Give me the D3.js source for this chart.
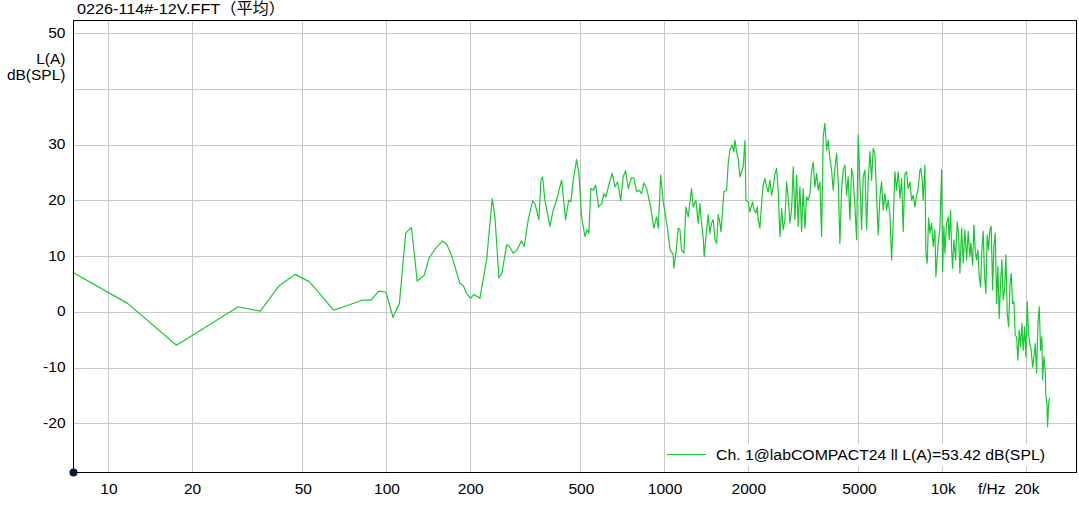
<!DOCTYPE html>
<html><head><meta charset="utf-8">
<script src="https://cdn.jsdelivr.net/npm/d3@7"></script>
<style>
body{margin:0;background:#fff}
svg{display:block}
text{font-family:"Liberation Sans",Arial,"Noto Sans CJK SC",sans-serif;font-size:15.5px;fill:#000}
</style>
</head><body>
<svg id="chart" width="1079" height="506"></svg>
<script>
const titleText = "0226-114#-12V.FFT（平均）";
const xTicks = [10,20,50,100,200,500,1000,2000,5000,10000,20000];
const xTickLabels = ["10","20","50","100","200","500","1000","2000","5000","10k","20k"];
const xUnit = "f/Hz";
const yGrid = [50,40,30,20,10,0,-10,-20];
const yTickValues = [50,30,20,10,0,-10,-20];
const yUnit = ["L(A)","dB(SPL)"];
const legendLabel = "Ch. 1@labCOMPACT24 ll L(A)=53.42 dB(SPL)";

// band A : up to 130 Hz
const freqA = [7.49,11.72,17.58,29.30,35.16,41.02,46.88,52.73,58.59,64.45,70.31,82.03,87.89,93.75,99.61,105.5,111.3,117.2,123.0,128.9];
const levelA = [7.1,1.6,-5.9,1.0,0.2,4.7,6.8,5.5,2.9,0.4,1.0,2.2,2.2,3.8,3.6,-0.9,1.6,14.2,15.2,5.6];
// band B : 130 Hz - 500 Hz
const freqB = [136.6,142.1,149.3,159.1,164.5,170.4,176.2,183.6,188.7,194.1,200.6,206.2,216.7,229.1,240.0,245.4,253.7,260.0,270.3,276.2,285.5,293.6,306.0,312.7,323.3,335.3,341.8,353.2,359.2,364.2,371.2,386.9,397.6,408.9,426.2,440.6,451.7,460.3,469.2,482.6,491.9];
const levelB = [6.6,9.7,11.3,12.8,12.2,10.6,8.2,5.2,4.8,3.4,2.5,3.2,2.5,9.4,20.4,17.1,6.2,7.0,12.1,11.9,10.6,11.1,12.8,11.8,16.6,20.0,19.5,16.6,23.7,24.3,20.1,15.4,18.3,20.1,23.7,16.6,20.1,19.8,23.7,27.4,24.9];
// band C : 500 Hz - 1 kHz
const freqC = [503,517,527,534,543,554,565,579,594,605,615,632,648,663,678,695,710,724,740,761,776,793,810,827,842,862,891,915,936,949,968,989];
const levelC = [17.1,13.6,14.8,14.2,22.2,21.9,22.8,18.9,19.5,21.3,20.7,23.1,24.9,22.5,23.4,20.0,24.3,25.4,22.2,24.2,24.0,21.6,21.9,21.3,23.2,22.2,18.9,15.1,17.1,15.1,24.6,19.8];
// band D : 1 kHz - 2 kHz
const freqD = [1022,1045,1074,1080,1098,1119,1135,1151,1173,1193,1216,1250,1267,1296,1321,1339,1351,1377,1388,1416,1435,1455,1476,1496,1517,1538,1559,1581,1594,1617,1634,1671,1693,1717,1750,1775,1790,1815,1839,1866,1892,1917,1945,1961,1998];
const levelD = [15.4,11.3,10.3,7.9,10.6,15.1,14.8,11.2,10.6,18.9,17.1,22.2,18.9,20.1,16.0,19.5,17.1,13.3,10.0,14.8,17.5,14.2,16.0,16.6,13.0,12.4,17.5,16.0,14.5,18.3,21.6,21.9,26.7,29.1,30.0,28.8,30.9,28.8,27.6,24.3,25.2,26.1,30.8,20.1,19.8];
// band E : 2 kHz - 4 kHz
const freqE = [2026,2072,2100,2130,2153,2171,2201,2233,2262,2294,2327,2358,2392,2426,2458,2493,2528,2561,2598,2635,2670,2708,2746,2782,2822,2862,2901,2942,2983,3023,3066,3109,3150,3195,3240,3284,3330,3377,3423,3471,3521,3567,3618,3670,3718,3771,3824,3875,3930,3986];
const levelE = [18.0,19.8,18.3,17.8,18.9,16.6,15.1,19.5,22.8,24.0,22.5,21.6,23.7,21.0,22.5,24.9,25.8,21.9,13.6,18.6,14.8,16.6,23.4,20.7,16.0,18.3,26.1,16.6,24.6,15.4,22.5,14.5,22.2,15.1,20.7,20.1,21.3,25.2,27.0,22.5,24.9,21.9,23.4,13.6,31.5,33.9,29.1,30.9,27.6,25.5];
// band F : 4 kHz - 10 kHz
const freqF = [4039,4096,4154,4210,4269,4330,4388,4450,4513,4573,4638,4703,4766,4835,4903,4968,5038,5110,5178,5251,5326,5396,5473,5550,5624,5704,5786,5863,5946,6030,6111,6197,6284,6368,6459,6550,6638,6732,6827,6918,7016,7116,7211,7313,7416,7516,7623,7731,7833,7944,8057,8164,8280,8348,8439,8509,8630,8701,8795,8898,8995,9122,9243,9374,9452,9634,9772,9911,9993];
const levelF = [21.9,25.8,28.5,23.7,12.4,21.9,25.5,26.4,21.0,24.3,16.6,25.8,24.3,18.9,13.0,31.8,23.7,14.8,24.3,25.5,14.8,23.4,28.8,23.7,29.4,28.5,20.7,13.9,20.7,23.4,18.3,21.3,18.3,20.1,17.5,9.4,16.0,25.2,21.9,25.2,20.4,24.0,14.5,24.9,25.2,22.2,23.4,20.1,21.0,18.9,21.0,22.2,25.5,25.8,23.7,20.1,26.4,10.6,8.8,16.9,14.2,16.0,11.8,14.8,6.4,12.4,15.1,25.5,7.3];
// band G : above 10 kHz
const freqG = [10100,10184,10328,10466,10553,10676,10765,10854,10972,11127,11276,11407,11531,11694,11851,12019,12189,12351,12527,12630,12809,12948,13088,13240,13383,13529,13686,13834,13984,14147,14301,14455,14624,14782,14942,15117,15282,15447,15627,15797,15965,16152,16326,16502,16695,16876,17058,17258,17445,17634,17840,18033,18228,18439,18638,18840,19060,19268,19475,19704,19916,20131,20366,20586,20809,21051,21278,21509,21761,21996,22234,22493,22737,22868,23117,23367,23505,23700,23838,24035,24235];
const levelG = [15.4,10.6,16.0,17.1,13.0,18.3,11.2,7.9,13.0,9.4,16.2,14.2,7.0,15.1,8.8,14.8,9.4,14.5,10.0,12.4,8.5,15.7,11.2,9.4,11.2,6.4,4.6,11.2,14.5,6.4,3.4,13.9,11.2,14.8,15.4,4.0,11.8,14.2,1.6,8.2,-1.1,5.2,9.4,2.2,4.0,10.3,-0.2,-2.6,4.6,7.0,1.6,1.9,-4.1,-4.4,-8.6,-3.2,-6.2,-2.0,-6.8,-2.6,-8.0,1.9,-3.8,-5.6,-6.8,-9.8,-8.0,-5.6,-10.9,-2.0,1.0,-6.8,-4.4,-12.1,-8.0,-10.3,-15.1,-16.3,-20.5,-16.3,-15.4];

const bands = [[freqA,levelA],[freqB,levelB],[freqC,levelC],[freqD,levelD],[freqE,levelE],[freqF,levelF],[freqG,levelG]];
const series = [];
bands.forEach(([f,l]) => { const n = Math.min(f.length,l.length); for (let i=0;i<n;i++) series.push({f:f[i], v:l[i]}); });

const L = 73.5, R = 1076.5, T = 20.5, B = 472.5;
const svg = d3.select("#chart");
const x = d3.scaleLog().domain([7.49, 30280]).range([L, R]);
const y = d3.scaleLinear().domain([-28.73, 52.33]).range([B, T]);
const crisp = v => Math.round(v - 0.5) + 0.5;
const lineColor = "#18c830";

// grid
const grid = svg.append("g").attr("stroke","#c8c8c8").attr("stroke-width",1);
grid.selectAll("line.v").data(xTicks).join("line").attr("class","v")
  .attr("x1",d=>crisp(x(d))).attr("x2",d=>crisp(x(d))).attr("y1",T).attr("y2",B);
grid.selectAll("line.h").data(yGrid).join("line").attr("class","h")
  .attr("y1",d=>crisp(y(d))).attr("y2",d=>crisp(y(d))).attr("x1",L).attr("x2",R);

// data line
svg.append("clipPath").attr("id","clip").append("rect").attr("x",L).attr("y",T).attr("width",R-L).attr("height",B-T);
const line = d3.line().x(d=>x(d.f)).y(d=>y(d.v));
svg.append("path").datum(series).attr("clip-path","url(#clip)")
  .attr("fill","none").attr("stroke",lineColor).attr("stroke-width",1.2).attr("stroke-linejoin","round")
  .attr("d",line);

// legend
const lg = svg.append("g");
lg.append("rect").attr("x",666).attr("y",444).attr("width",394).attr("height",22).attr("fill","#fff");
lg.append("line").attr("x1",667).attr("x2",706).attr("y1",454.5).attr("y2",454.5).attr("stroke",lineColor).attr("stroke-width",1.2);
lg.append("text").attr("x",716).attr("y",459.5).attr("textLength",329).attr("lengthAdjust","spacingAndGlyphs").text(legendLabel);

// frame
svg.append("rect").attr("x",L).attr("y",T).attr("width",R-L).attr("height",B-T).attr("fill","none").attr("stroke","#000").attr("stroke-width",1);

// axes
const xAxis = d3.axisBottom(x).tickValues(xTicks).tickFormat((d,i)=>xTickLabels[i]).tickSize(0).tickPadding(0);
const gx = svg.append("g").attr("transform",`translate(0,${B})`).call(xAxis);
gx.select(".domain").remove();
gx.selectAll("text").attr("dy",null).attr("y",21.5).style("font-size","15.5px").style("font-family",'"Liberation Sans",Arial,sans-serif');

const yAxis = d3.axisLeft(y).tickValues(yTickValues).tickFormat(d=>String(d)).tickSize(0).tickPadding(0);
const gy = svg.append("g").attr("transform",`translate(${L-8},0)`).call(yAxis);
gy.select(".domain").remove();
gy.selectAll("text").attr("dy",null).attr("y",3.6).style("font-size","15.5px").style("font-family",'"Liberation Sans",Arial,sans-serif');

svg.append("text").attr("x",L-8).attr("y",63.5).attr("text-anchor","end").text(yUnit[0]);
svg.append("text").attr("x",L-8).attr("y",79.5).attr("text-anchor","end").text(yUnit[1]);
svg.append("text").attr("x",978).attr("y",494).text(xUnit);

// title
svg.append("text").attr("x",77).attr("y",14).attr("textLength",208).attr("lengthAdjust","spacingAndGlyphs").text(titleText);

// origin dot
svg.append("circle").attr("cx",L).attr("cy",B).attr("r",4).attr("fill","#0b1a2e");
</script>
</body></html>
